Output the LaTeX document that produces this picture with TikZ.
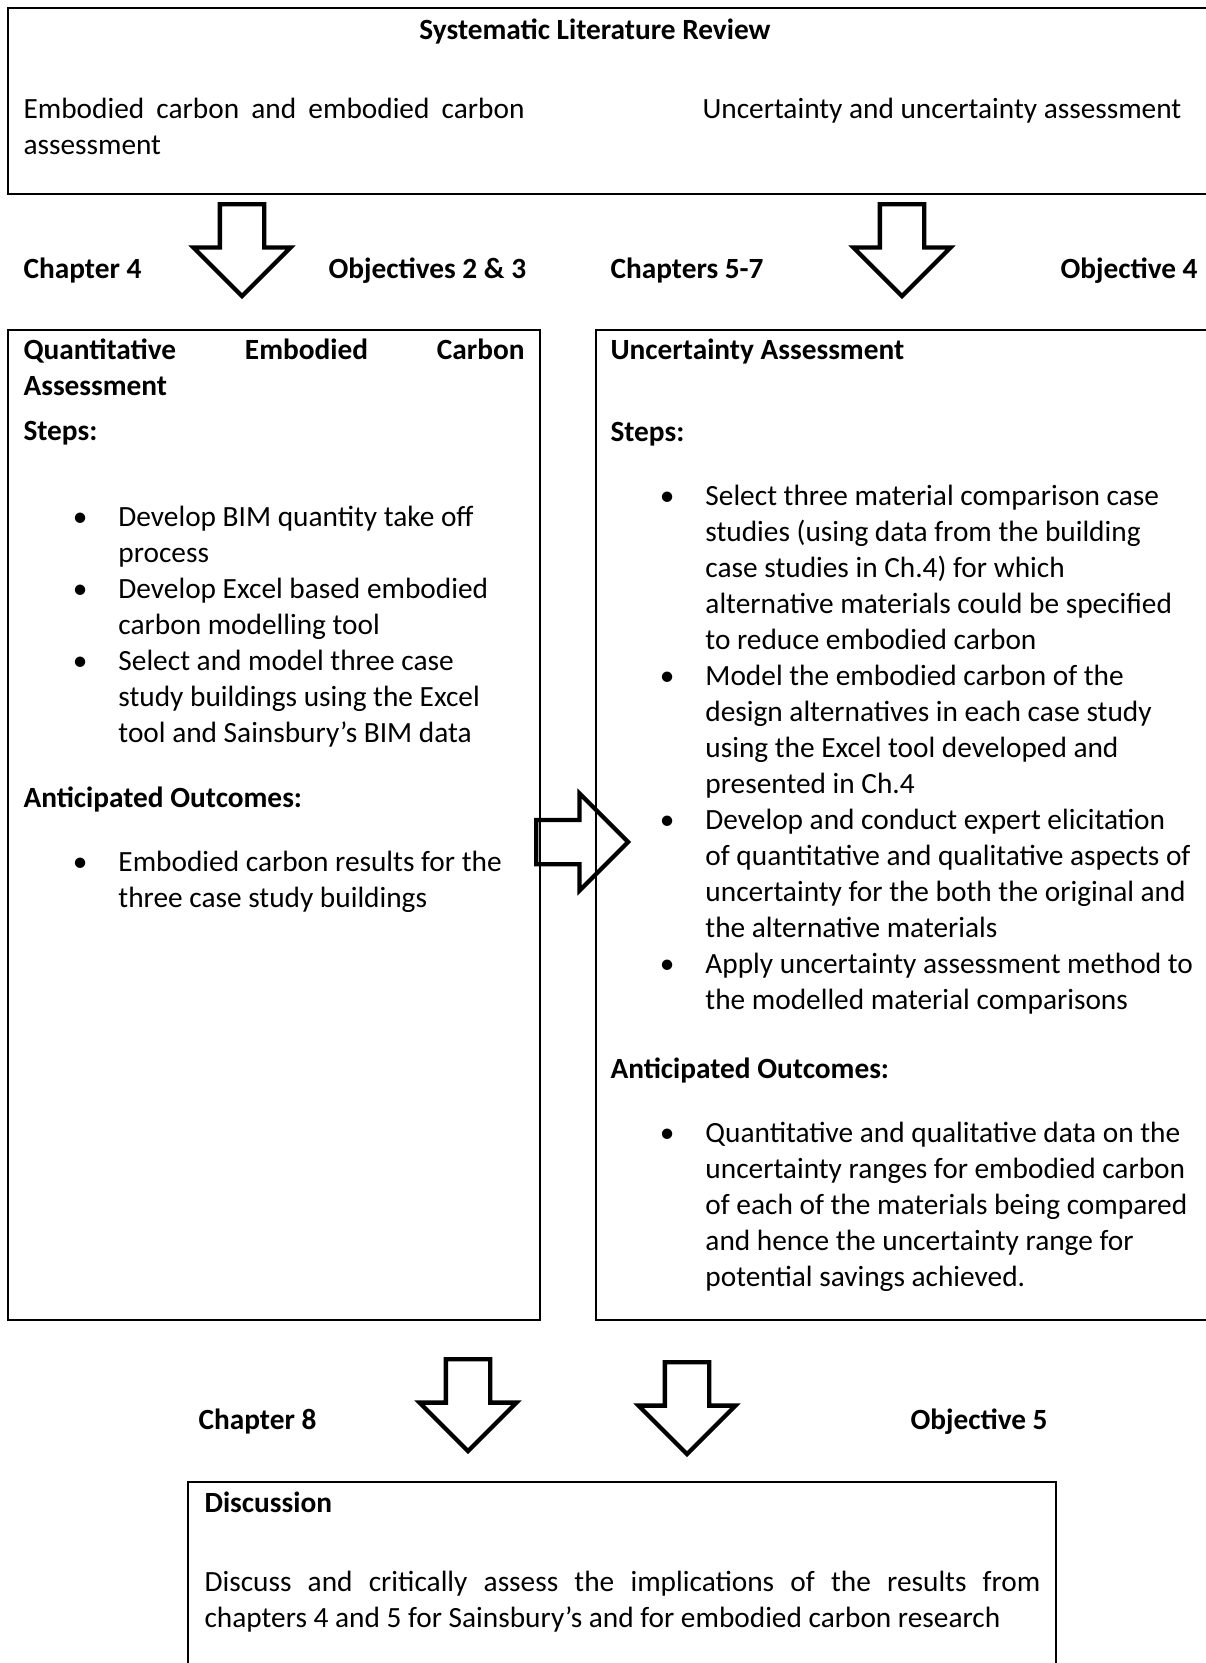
\documentclass[tikz,border=0pt]{standalone}
\usepackage{fontspec}
\setmainfont{Carlito}
\usetikzlibrary{shapes.arrows}
\newcommand{\txtsize}{\fontsize{11}{13.5}\selectfont}
\newcommand{\bitem}[1]{\par\hangindent=35.6pt\hangafter=1\noindent\makebox[35.6pt][l]{\hspace{18.5pt}\textbullet}#1\par}
\tikzset{
  boxframe/.style   = {draw=black, line width=0.8pt},
  blockarrow/.style = {single arrow, draw=black, line width=1.6pt, minimum width=35pt,
                       minimum height=34.5pt, single arrow head extend=9.9pt,
                       inner xsep=0pt, inner ysep=7.5pt, anchor=tail},
  heading/.style    = {font=\txtsize\bfseries, anchor=base west},
  body/.style       = {anchor=base west,
                       execute at begin node={\spaceskip=0.226em\xspaceskip=0.226em\relax}},
}

\begin{document}
\begin{tikzpicture}[x=0.375pt, y=-0.375pt, every node/.style={font=\txtsize, inner sep=0pt}]
  \clip (0,0) rectangle (1206,1663);
  % boxes
  \draw[boxframe] (8,8) rectangle (1230,194);
  \draw[boxframe] (8,330) rectangle (540,1320);
  \draw[boxframe] (596,330) rectangle (1230,1320);
  \draw[boxframe] (188,1482) rectangle (1056,1700);
  % literature review
  \node[heading, anchor=base] (slr) at (595,39) {Systematic Literature Review};
  \node[body, text width=187.9pt] (ecrev) at (23,118)
    {Embodied\hfill carbon\hfill and\hfill embodied\hfill carbon\newline assessment};
  \node[body] (uarev) at (702,118) {Uncertainty and uncertainty assessment};
  % chapter and objective labels
  \foreach \n/\x/\y/\t in {chfour/23/278/Chapter 4, objtwo/328/278/Objectives 2 \& 3,
                           chfive/610/278/Chapters 5-7, objfour/1060/278/Objective 4,
                           cheight/198/1429/Chapter 8, objfive/910/1429/Objective 5}
    \node[heading] (\n) at (\x,\y) {\t};
  % block arrows
  \foreach \n/\x/\y in {arrA/242/202, arrB/902/202, arrC/468/1357, arrD/687/1360}
    \node[blockarrow, rotate=-90] (\n) at (\x,\y) {};
  \node[blockarrow] (arrE) at (534,842) {};
  % quantitative assessment
  \node[body, text width=187.9pt] (qeca) at (23,359) {%
    \textbf{Quantitative\hfill Embodied\hfill Carbon\newline Assessment}\par\vspace{3.5pt}
    \textbf{Steps:}\par\vspace{18.9pt}
    \bitem{Develop BIM quantity take off\newline process}
    \bitem{Develop Excel based embodied\newline carbon modelling tool}
    \bitem{Select and model three case\newline study buildings using the Excel\newline
      tool and Sainsbury’s BIM data}\vspace{10.8pt}
    \textbf{Anticipated Outcomes:}\par\vspace{10.6pt}
    \bitem{Embodied carbon results for the\newline three case study buildings}};
  % uncertainty assessment
  \node[body, text width=240pt] (uass) at (610,359) {%
    \textbf{Uncertainty Assessment}\par\vspace{17.3pt}
    \textbf{Steps:}\par\vspace{10.6pt}
    \bitem{Select three material comparison case\newline studies (using data from the building\newline
      case studies in Ch.4) for which\newline alternative materials could be specified\newline
      to reduce embodied carbon}
    \bitem{Model the embodied carbon of the\newline design alternatives in each case study\newline
      using the Excel tool developed and\newline presented in Ch.4}
    \bitem{Develop and conduct expert elicitation\newline of quantitative and qualitative aspects of\newline
      uncertainty for the both the original and\newline the alternative materials}
    \bitem{Apply uncertainty assessment method to\newline the modelled material comparisons}\vspace{12.4pt}
    \textbf{Anticipated Outcomes:}\par\vspace{10.5pt}
    \bitem{Quantitative and qualitative data on the\newline uncertainty ranges for embodied carbon\newline
      of each of the materials being compared\newline and hence the uncertainty range for\newline
      potential savings achieved.}};
  % discussion
  \node[body, text width=313.5pt] (disc) at (204,1512) {%
    \textbf{Discussion}\par\vspace{16.2pt}
    Discuss\hfill and\hfill critically\hfill assess\hfill the\hfill implications\hfill of\hfill
    the\hfill results\hfill from\newline chapters 4 and 5 for Sainsbury’s and for embodied carbon research};
\end{tikzpicture}
\end{document}
